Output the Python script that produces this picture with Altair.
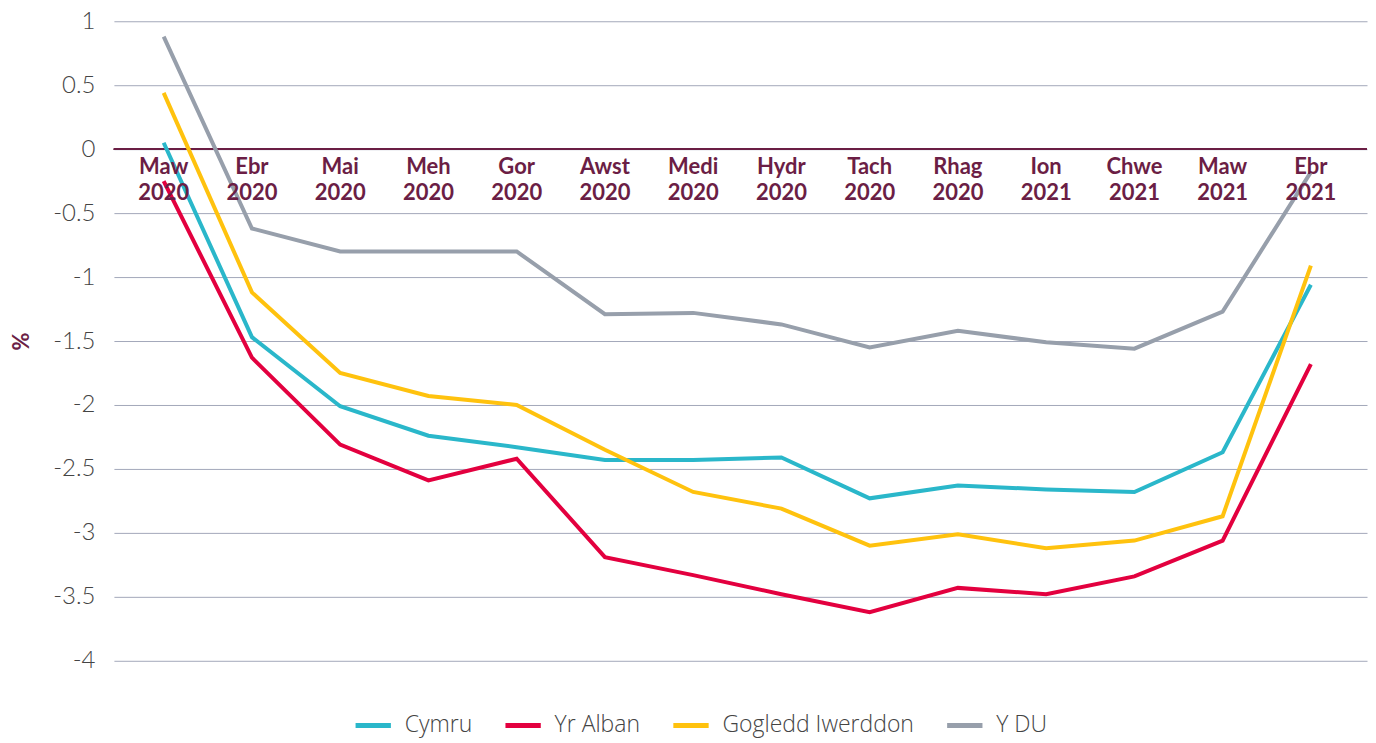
import altair as alt
import pandas as pd

months = ["Maw", "Ebr", "Mai", "Meh", "Gor", "Awst", "Medi", "Hydr", "Tach", "Rhag", "Ion", "Chwe", "Maw", "Ebr"]
years = ["2020"] * 10 + ["2021"] * 4

series_names = ["Cymru", "Yr Alban", "Gogledd Iwerddon", "Y DU"]
series_colors = ["#2ab7ca", "#e3003f", "#ffc20e", "#979fab"]

cymru = [0.05, -1.47, -2.01, -2.24, -2.33, -2.43, -2.43, -2.41, -2.73, -2.63, -2.66, -2.68, -2.37, -1.06]
yr_alban = [-0.25, -1.63, -2.31, -2.59, -2.42, -3.19, -3.33, -3.48, -3.62, -3.43, -3.48, -3.34, -3.06, -1.68]
gogledd_iwerddon = [0.44, -1.12, -1.75, -1.93, -2.00, -2.35, -2.68, -2.81, -3.10, -3.01, -3.12, -3.06, -2.87, -0.91]
y_du = [0.88, -0.62, -0.80, -0.80, -0.80, -1.29, -1.28, -1.37, -1.55, -1.42, -1.51, -1.56, -1.27, -0.18]

y_ticks = [1, 0.5, 0, -0.5, -1, -1.5, -2, -2.5, -3, -3.5, -4]

values = [cymru, yr_alban, gogledd_iwerddon, y_du]
keys = [f"{m} {y}" for m, y in zip(months, years)]

rows = []
for name, vals in zip(series_names, values):
    for i, v in enumerate(vals):
        rows.append({"key": keys[i], "series": name, "value": v, "order": i})
df = pd.DataFrame(rows)

label_df = pd.DataFrame({"key": keys, "label": [f"{m}\n{y}" for m, y in zip(months, years)], "zero": [0] * len(keys)})

x_enc = alt.X("key:N", sort=keys, scale=alt.Scale(type="point", padding=0.6, align=0.47), axis=None)

lines = alt.Chart(df).mark_line(strokeWidth=4, strokeJoin="miter").encode(
    x=x_enc,
    y=alt.Y("value:Q", scale=alt.Scale(domain=[-4, 1], nice=False),
            axis=alt.Axis(values=y_ticks, labelExpr="'' + datum.value",
                          title="%", titleColor="#6b1e45", titleFont="Lato", titleFontSize=22,
                          titleFontWeight="bold", titlePadding=19,
                          labelFont="Lato", labelFontSize=24, labelFontWeight=300, labelColor="#444444",
                          labelPadding=19, domain=False, ticks=False,
                          grid=True, gridColor="#a3a8ba", gridWidth=1)),
    color=alt.Color("series:N", sort=series_names,
                    scale=alt.Scale(domain=series_names, range=series_colors),
                    legend=alt.Legend(title=None, orient="none", direction="horizontal",
                                      legendX=239, legendY=684,
                                      symbolType="stroke", symbolStrokeWidth=5, symbolSize=1250,
                                      labelFont="Open Sans", labelFontSize=23, labelFontWeight=300,
                                      labelColor="#444444", labelLimit=0,
                                      labelOffset=11, columnPadding=22)),
    detail="series:N",
    order="order:Q",
)

zero = alt.Chart(label_df).mark_rule(color="#6b1e45", strokeWidth=1.5).encode(
    y=alt.Y("zero:Q"),
)

labels = alt.Chart(label_df).mark_text(
    font="Lato", fontSize=22, fontWeight="bold", color="#6b1e45",
    baseline="top", dy=8, lineBreak="\n", lineHeight=26,
).encode(
    x=x_enc,
    y=alt.Y("zero:Q"),
    text="label:N",
)

chart = alt.layer(zero, lines, labels).properties(
    width=1254, height=640,
    padding={"left": 2, "top": 1, "right": 0, "bottom": 0},
).configure_view(stroke=None)

chart.save("out.html", embed_options={"renderer": "svg", "actions": False})
